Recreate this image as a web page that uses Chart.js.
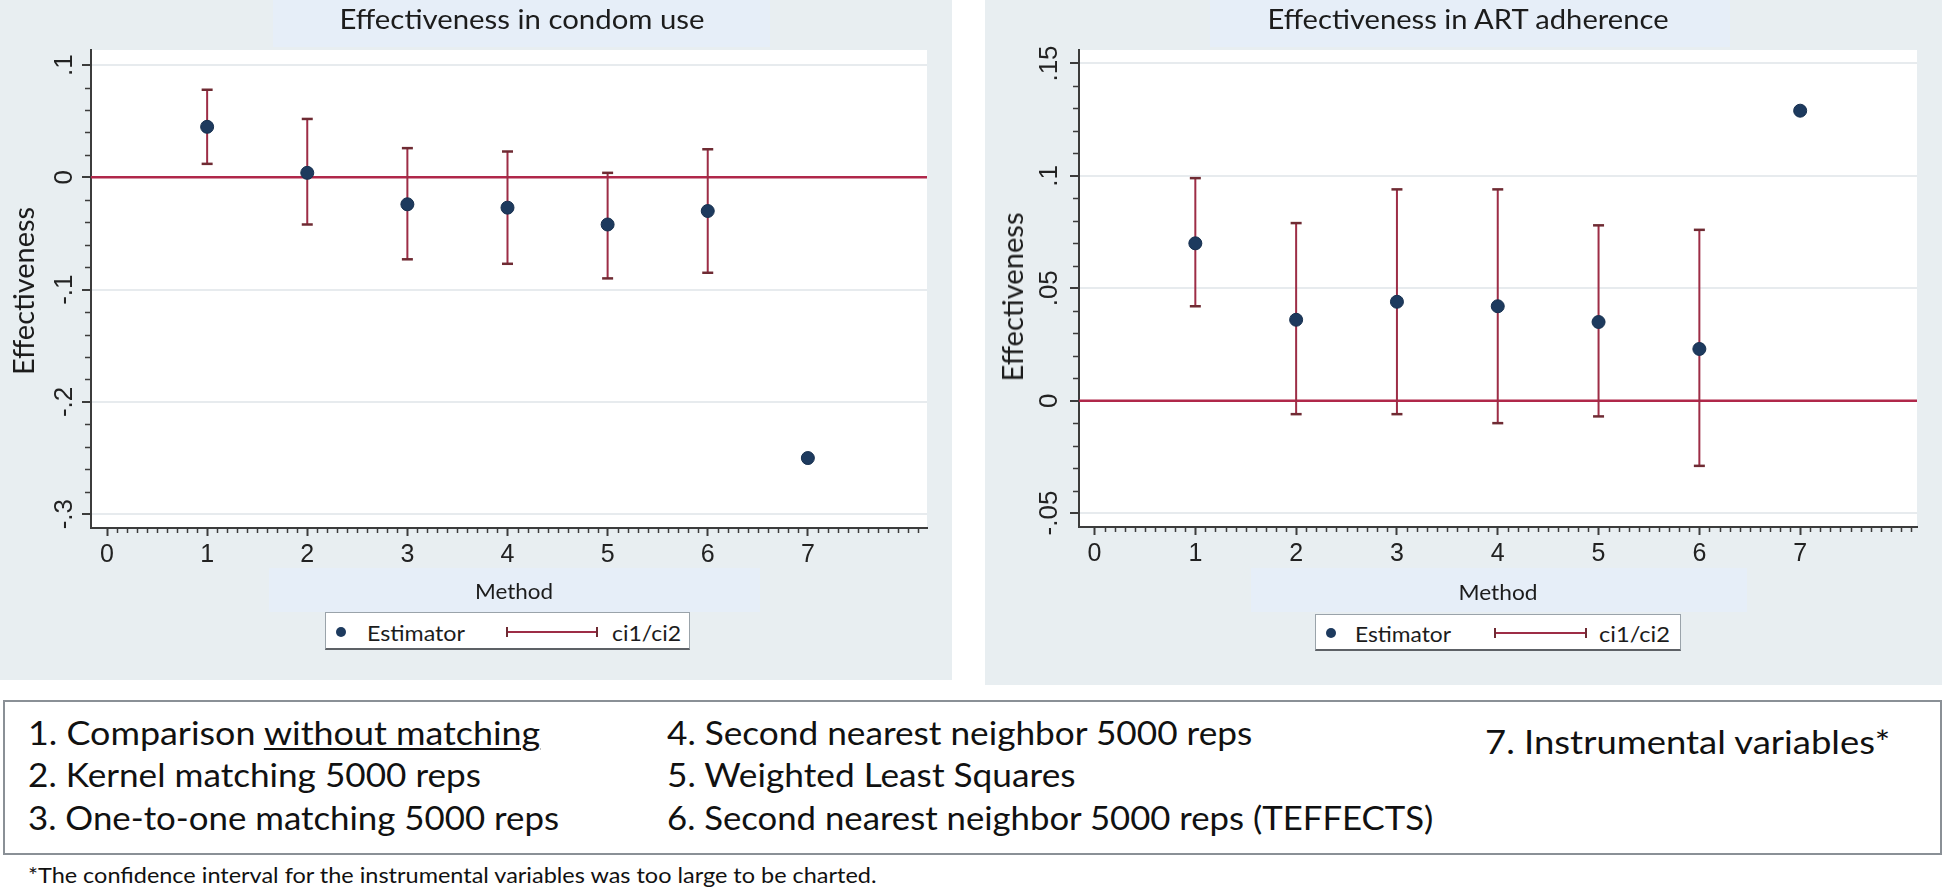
<!DOCTYPE html>
<html><head><meta charset="utf-8">
<script src="https://cdn.jsdelivr.net/npm/chart.js@4.4.1/dist/chart.umd.min.js"></script>
<style>
html,body{margin:0;padding:0;background:#fff;width:1946px;height:889px;overflow:hidden;position:relative;}
.panel{position:absolute;background:#e8eef1;}
.band{position:absolute;background:#e6eef8;}
.t{position:absolute;white-space:nowrap;line-height:1;color:#1c1c1c;}
canvas{position:absolute;}
.lgbox{position:absolute;background:#fff;border:1px solid #9aa3aa;border-bottom:2px solid #5d6166;box-sizing:border-box;}
.dot{position:absolute;border-radius:50%;background:#1d3a5e;}
.seg{position:absolute;}
.box{position:absolute;border:2px solid #8a9096;box-sizing:border-box;background:#fff;}
</style></head>
<body>
<div class="panel" style="left:0;top:0;width:952px;height:680px"></div>
<div class="panel" style="left:985px;top:0;width:957px;height:685px"></div>
<div class="band" style="left:273px;top:0;width:497px;height:47px"></div>
<div class="band" style="left:1210px;top:0;width:520px;height:47px"></div>
<div class="band" style="left:269px;top:568px;width:491px;height:44px"></div>
<div class="band" style="left:1251px;top:568px;width:496px;height:44px"></div>
<canvas id="c1" width="952" height="680" style="left:0;top:0"></canvas>
<canvas id="c2" width="957" height="685" style="left:985px;top:0"></canvas>
<div class="box" style="left:3px;top:700px;width:1939px;height:155px"></div>
<script>
// ---------------- data ----------------
const methods = [1, 2, 3, 4, 5, 6, 7];
const xTickValues = [0, 1, 2, 3, 4, 5, 6, 7];
const xTickLabels = ['0', '1', '2', '3', '4', '5', '6', '7'];

const condomEstimate = [0.045, 0.004, -0.024, -0.027, -0.042, -0.030, -0.250];
const condomCiLow    = [0.012, -0.042, -0.073, -0.077, -0.090, -0.085, null];
const condomCiHigh   = [0.078, 0.052, 0.026, 0.023, 0.004, 0.025, null];
const condomYTicks = [-0.3, -0.2, -0.1, 0, 0.1];
const condomYTickLabels = ['-.3', '-.2', '-.1', '0', '.1'];

const artEstimate = [0.070, 0.036, 0.044, 0.042, 0.035, 0.023, 0.129];
const artCiLow    = [0.042, -0.006, -0.006, -0.010, -0.007, -0.029, null];
const artCiHigh   = [0.099, 0.079, 0.094, 0.094, 0.078, 0.076, null];
const artYTicks = [-0.05, 0, 0.05, 0.1, 0.15];
const artYTickLabels = ['-.05', '0', '.05', '.1', '.15'];

const referenceLine = 0;
const panelTitles = ['Effectiveness in condom use', 'Effectiveness in ART adherence'];
const yAxisTitle = 'Effectiveness';
const xAxisTitle = 'Method';
const legendLabels = ['Estimator', 'ci1/ci2'];
const methodNotes = [
  '1. Comparison without matching',
  '2. Kernel matching 5000 reps',
  '3. One-to-one matching 5000 reps',
  '4. Second nearest neighbor 5000 reps',
  '5. Weighted Least Squares',
  '6. Second nearest neighbor 5000 reps (TEFFECTS)',
  '7. Instrumental variables*'
];
const footnote = '*The confidence interval for the instrumental variables was too large to be charted.';

// ---------------- styles ----------------
const NAVY = '#1d3a5e';
const CI_COLOR = '#9d2d46';
const CAP_COLOR = '#6f2b33';
const REF_COLOR = '#b0284a';
const AXIS = '#3c3c3c';
const GRID = '#e7ebee';
const TICK_TEXT = '#222222';

function buildCiData(lo, hi) {
  const d = [];
  methods.forEach((m, i) => {
    if (lo[i] == null || hi[i] == null) return;
    d.push({x: m, y: lo[i]}, {x: m, y: hi[i]}, {x: m, y: null});
  });
  return d;
}

function decorPlugin(spec) {
  return {
    id: 'decor_' + spec.name,
    beforeDraw(chart) {
      const {ctx, chartArea: a} = chart;
      ctx.save();
      ctx.fillStyle = '#ffffff';
      ctx.fillRect(a.left, a.top, a.right - a.left, a.bottom - a.top);
      ctx.restore();
    },
    beforeDatasetsDraw(chart) {
      const {ctx, chartArea: a, scales: {y}} = chart;
      const py = y.getPixelForValue(referenceLine);
      ctx.save();
      ctx.strokeStyle = REF_COLOR;
      ctx.lineWidth = 2.5;
      ctx.beginPath();
      ctx.moveTo(a.left, py);
      ctx.lineTo(a.right, py);
      ctx.stroke();
      ctx.restore();
    },
    afterDraw(chart) {
      const {ctx, chartArea: a, scales: {x, y}} = chart;
      ctx.save();
      ctx.strokeStyle = AXIS;
      ctx.lineWidth = 1.5;
      ctx.beginPath();
      for (let k = 1; k <= 90; k++) {
        if (k % 10 === 0 && k <= 70) continue;
        const px = Math.round(x.getPixelForValue(k / 10)) + 0.5;
        if (px > a.right - 2) break;
        ctx.moveTo(px, a.bottom);
        ctx.lineTo(px, a.bottom + 5);
      }
      const first = spec.yTicks[0], last = spec.yTicks[spec.yTicks.length - 1];
      const n = Math.round((last - first) / spec.yMinorStep);
      const per = Math.round(spec.yMajorStep / spec.yMinorStep);
      for (let j = 0; j <= n; j++) {
        if (j % per === 0) continue;
        const py = Math.round(y.getPixelForValue(first + j * spec.yMinorStep)) + 0.5;
        ctx.moveTo(a.left, py);
        ctx.lineTo(a.left - 6, py);
      }
      ctx.stroke();
      ctx.fillStyle = TICK_TEXT;
      ctx.font = '26px "Liberation Sans"';
      ctx.textAlign = 'center';
      ctx.textBaseline = 'alphabetic';
      spec.yTicks.forEach((v, i) => {
        const py = y.getPixelForValue(v);
        ctx.save();
        ctx.translate(spec.yLabelBaseline, py);
        ctx.rotate(-Math.PI / 2);
        ctx.fillText(spec.yLabels[i], 0, 0);
        ctx.restore();
      });
      ctx.restore();
    }
  };
}

function makeChart(id, spec) {
  return new Chart(document.getElementById(id), {
    type: 'scatter',
    data: {
      datasets: [
        {
          label: legendLabels[0], type: 'scatter',
          data: methods.map((m, i) => ({x: m, y: spec.est[i]})),
          pointRadius: 6.5, pointHoverRadius: 6.5,
          pointBackgroundColor: NAVY, pointBorderColor: '#17304f', pointBorderWidth: 1,
          order: 0
        },
        {
          label: legendLabels[1], type: 'line',
          data: buildCiData(spec.lo, spec.hi),
          showLine: true, spanGaps: false, fill: false, tension: 0,
          borderColor: CI_COLOR, borderWidth: 2,
          pointStyle: 'line', pointRadius: 5.5, pointHoverRadius: 5.5,
          pointBorderColor: CAP_COLOR, pointBackgroundColor: CAP_COLOR, pointBorderWidth: 2.5,
          order: 1
        }
      ]
    },
    options: {
      responsive: false, animation: false, events: [],
      layout: {padding: {left: 0, top: spec.padTop, right: spec.padRight, bottom: 0}},
      plugins: {legend: {display: false}, title: {display: false}, tooltip: {enabled: false}},
      scales: {
        x: {
          type: 'linear', min: spec.xMin, max: spec.xMax,
          afterBuildTicks: (s) => { s.ticks = xTickValues.map(v => ({value: v})); },
          afterFit: (s) => { s.height = spec.xAxisH; },
          ticks: {
            callback: (v, i) => xTickLabels[i],
            font: {family: 'Liberation Sans', size: 25}, color: TICK_TEXT,
            padding: 4, maxRotation: 0, minRotation: 0, autoSkip: false
          },
          grid: {display: true, drawOnChartArea: false, drawTicks: true, tickLength: 8, tickColor: AXIS, tickWidth: 2},
          border: {display: true, color: AXIS, width: 2}
        },
        y: {
          type: 'linear', min: spec.yMin, max: spec.yMax,
          afterBuildTicks: (s) => { s.ticks = spec.yTicks.map(v => ({value: v})); },
          afterFit: (s) => { s.width = spec.yAxisW; },
          ticks: {display: false},
          grid: {display: true, drawOnChartArea: true, color: GRID, lineWidth: 2, drawTicks: true, tickLength: 9, tickColor: AXIS, tickWidth: 2},
          border: {display: true, color: AXIS, width: 2}
        }
      }
    },
    plugins: [decorPlugin(spec)]
  });
}

makeChart('c1', {
  name: 'condom', est: condomEstimate, lo: condomCiLow, hi: condomCiHigh,
  yTicks: condomYTicks, yLabels: condomYTickLabels, yMajorStep: 0.1, yMinorStep: 0.02,
  xMin: -0.16, xMax: 8.19, yMin: -0.3123, yMax: 0.1134,
  padTop: 50, padRight: 25, xAxisH: 152, yAxisW: 91, yLabelBaseline: 72
});
makeChart('c2', {
  name: 'art', est: artEstimate, lo: artCiLow, hi: artCiHigh,
  yTicks: artYTicks, yLabels: artYTickLabels, yMajorStep: 0.05, yMinorStep: 0.01,
  xMin: -0.154, xMax: 8.159, yMin: -0.0562, yMax: 0.156,
  padTop: 50, padRight: 25, xAxisH: 158, yAxisW: 94, yLabelBaseline: 72
});

// ---------------- HTML text ----------------
const mctx = document.createElement('canvas').getContext('2d');
function addText(txt, o) {
  const fam = o.family || 'Lato';
  const el = document.createElement('div');
  el.className = 't';
  el.style.fontFamily = fam;
  el.style.fontSize = o.size + 'px';
  if (o.color) el.style.color = o.color;
  if (o.html) el.innerHTML = o.html; else el.textContent = txt;
  mctx.font = o.size + 'px ' + fam;
  const nat = mctx.measureText(txt).width;
  const s = o.w ? o.w / nat : 1;
  el.style.left = o.x + 'px';
  el.style.top = o.y + 'px';
  const left = o.align === 'left';
  el.style.transformOrigin = left ? '0 50%' : '50% 50%';
  el.style.transform = 'translate(' + (left ? '0' : '-50%') + ',-50%)' + (o.rot ? ' rotate(' + o.rot + 'deg)' : '') + ' scaleX(' + s + ')';
  document.body.appendChild(el);
  return el;
}
function addDiv(cls, css) {
  const d = document.createElement('div');
  d.className = cls;
  Object.assign(d.style, css);
  document.body.appendChild(d);
  return d;
}

addText(panelTitles[0], {x: 522, y: 18, size: 27, w: 365});
addText(panelTitles[1], {x: 1468, y: 18, size: 27, w: 403});
addText(yAxisTitle, {x: 23, y: 291, size: 28, w: 168, rot: -90});
addText(yAxisTitle, {x: 1012, y: 297, size: 28, w: 169, rot: -90});
addText(xAxisTitle, {x: 514, y: 590, size: 21, w: 78});
addText(xAxisTitle, {x: 1498, y: 591, size: 21, w: 79});

function legend(o) {
  addDiv('lgbox', {left: o.l + 'px', top: o.t + 'px', width: (o.r - o.l) + 'px', height: (o.b - o.t) + 'px'});
  addDiv('dot', {left: (o.dot - 5) + 'px', top: (o.cy - 5) + 'px', width: '10px', height: '10px'});
  addText(legendLabels[0], {x: o.est, y: o.cy, size: 21, w: o.estW, align: 'left'});
  addDiv('seg', {left: o.l1 + 'px', top: (o.cy - 1) + 'px', width: (o.l2 - o.l1) + 'px', height: '2px', background: CI_COLOR});
  addDiv('seg', {left: (o.l1 - 1) + 'px', top: (o.cy - 5) + 'px', width: '2px', height: '10px', background: CAP_COLOR});
  addDiv('seg', {left: (o.l2 - 1) + 'px', top: (o.cy - 5) + 'px', width: '2px', height: '10px', background: CAP_COLOR});
  addText(legendLabels[1], {x: o.ci, y: o.cy, size: 21, w: o.ciW, align: 'left'});
}
legend({l: 325, r: 690, t: 612, b: 650, cy: 632, dot: 341, est: 367, estW: 98, l1: 507, l2: 597, ci: 612, ciW: 69});
legend({l: 1315, r: 1681, t: 614, b: 651, cy: 633, dot: 1331, est: 1355, estW: 96, l1: 1495, l2: 1586, ci: 1599, ciW: 71});

const U = '<span style="text-decoration:underline;text-decoration-thickness:2px;text-underline-offset:3px">without matching</span>';
addText(methodNotes[0], {x: 28, y: 733, size: 32, w: 513, align: 'left', color: '#111', html: '1. Comparison ' + U});
addText(methodNotes[1], {x: 28, y: 775, size: 32, w: 453, align: 'left', color: '#111'});
addText(methodNotes[2], {x: 28, y: 818, size: 32, w: 531, align: 'left', color: '#111'});
addText(methodNotes[3], {x: 667, y: 733, size: 32, w: 586, align: 'left', color: '#111'});
addText(methodNotes[4], {x: 667, y: 775, size: 32, w: 409, align: 'left', color: '#111'});
addText(methodNotes[5], {x: 667, y: 818, size: 32, w: 767, align: 'left', color: '#111'});
addText(methodNotes[6], {x: 1485, y: 742, size: 32, w: 406, align: 'left', color: '#111'});
addText(footnote, {x: 28, y: 874, size: 21, w: 850, align: 'left', color: '#111'});
</script>
</body></html>
